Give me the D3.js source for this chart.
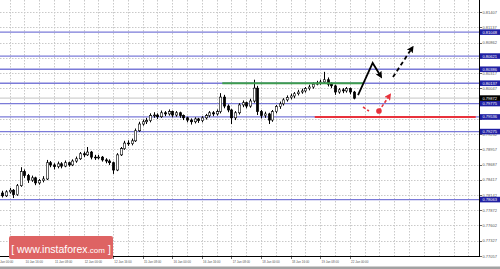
<!DOCTYPE html>
<html><head><meta charset="utf-8">
<script src="https://cdn.jsdelivr.net/npm/d3@7"></script>
<style>
html,body{margin:0;padding:0;background:#fff;}
svg{display:block;font-family:"Liberation Sans",Arial,sans-serif;}
</style></head><body>
<svg id="chart" width="500" height="269"></svg>
<script>
'use strict';
/* EURUSD-style candle chart with support/resistance levels and forecast arrows.
   Time axis = trading hours counted from 10 Jan 00:00 (weekend skipped), 2h bars. */

const firstBarHour=4, barStepHours=2;
const open =[.7818,.7813,.7820,.7823,.7815,.7831,.7856,.7849,.7841,.7845,.7836,.7840,.7843,.7872,.7868,.7865,.7870,.7866,.7872,.7868,
             .7875,.7879,.7888,.7886,.7891,.7882,.7881,.7882,.7877,.7875,.7872,.7859,.7886,.7897,.7907,.7906,.7911,.7929,.7941,.7945,
             .7947,.7956,.7957,.7954,.7961,.7959,.7963,.7957,.7961,.7956,.7952,.7948,.7945,.7950,.7947,.7952,.7956,.7961,.7959,.7963,
             .7989,.7973,.7966,.7952,.7961,.7975,.7979,.7973,.7982,.8005,.7963,.7956,.7959,.7948,.7963,.7972,.7977,.7984,.7988,.7991,
             .7995,.7998,.8000,.8004,.8007,.8012,.8014,.8016,.8020,.8012,.8009,.7998,.8002,.8000,.8004,.7998];
const high =[.7822,.7823,.7827,.7825,.7834,.7864,.7860,.7852,.7849,.7847,.7843,.7848,.7877,.7875,.7871,.7874,.7873,.7876,.7874,.7878,
             .7883,.7891,.7892,.7900,.7893,.7886,.7886,.7884,.7880,.7878,.7874,.7889,.7900,.7911,.7912,.7915,.7933,.7945,.7949,.7952,
             .7960,.7962,.7960,.7965,.7964,.7967,.7965,.7964,.7963,.7958,.7954,.7951,.7953,.7952,.7955,.7959,.7964,.7964,.7967,.7996,
             .7993,.7976,.7968,.7964,.7978,.7983,.7981,.7986,.8020,.8009,.7966,.7963,.7961,.7966,.7975,.7981,.7987,.7992,.7995,.7998,
             .8002,.8004,.8007,.8011,.8015,.8018,.8020,.8034,.8024,.8015,.8011,.8005,.8005,.8007,.8006,.8000];
const low  =[.7810,.7811,.7817,.7809,.7813,.7829,.7845,.7836,.7838,.7832,.7833,.7837,.7841,.7864,.7860,.7862,.7862,.7864,.7865,.7866,
             .7872,.7877,.7882,.7884,.7878,.7877,.7878,.7874,.7871,.7868,.7852,.7857,.7884,.7895,.7902,.7903,.7909,.7927,.7938,.7941,
             .7944,.7952,.7950,.7952,.7955,.7956,.7953,.7954,.7952,.7948,.7944,.7940,.7942,.7943,.7944,.7949,.7953,.7955,.7956,.7960,
             .7969,.7962,.7941,.7948,.7958,.7971,.7969,.7970,.7979,.7957,.7951,.7952,.7941,.7945,.7960,.7968,.7974,.7981,.7985,.7987,
             .7992,.7995,.7997,.8001,.8004,.8010,.8011,.8013,.8008,.8005,.7993,.7995,.7996,.7997,.7994,.7985];
const close=[.7813,.7820,.7823,.7815,.7831,.7856,.7849,.7841,.7845,.7836,.7840,.7843,.7872,.7868,.7865,.7870,.7866,.7872,.7868,.7875,
             .7879,.7888,.7886,.7891,.7882,.7881,.7882,.7877,.7875,.7872,.7859,.7886,.7897,.7907,.7906,.7911,.7929,.7941,.7945,.7947,
             .7956,.7957,.7954,.7961,.7959,.7963,.7957,.7961,.7956,.7952,.7948,.7945,.7950,.7947,.7952,.7956,.7961,.7959,.7963,.7989,
             .7973,.7966,.7952,.7961,.7975,.7979,.7973,.7982,.8005,.7963,.7956,.7959,.7948,.7963,.7972,.7977,.7984,.7988,.7991,.7995,
             .7998,.8000,.8004,.8007,.8012,.8014,.8016,.8020,.8012,.8009,.7998,.8002,.8000,.8004,.7998,.7987];

const yTicks=[0.81407,0.81137,0.80862,0.80592,0.80317,0.80047,0.79777,0.79502,0.79232,0.78957,0.78687,0.78417,0.78142,0.77872,0.77602,0.77327,0.77057];
const xTickHours=[0,16,32,48,64,80,96,112,128,144,160,176,192];
const xTickLabels=['10 Jan 00:00','10 Jan 16:00','11 Jan 08:00','12 Jan 00:00','12 Jan 16:00','15 Jan 08:00','16 Jan 00:00',
                   '16 Jan 16:00','17 Jan 08:00','18 Jan 00:00','18 Jan 16:00','19 Jan 08:00','22 Jan 00:00'];
const levels=[0.81048,0.80621,0.80386,0.80137,0.79775,0.79536,0.79275,0.78063];
const lastPrice=0.79872;
const resistance={price:0.80137,from:123,to:199};   // green
const support={price:0.79536,from:173,to:260};      // red
const upPath=[[196.4,0.79927],[204.3,0.80498],[208.6,0.80266]];
const upDash=[[215.3,0.80248],[225.6,0.80765]];
const downDash=[[199.1,0.79713],[202.3,0.79642]];
const downDot=[207.7,0.79642];
const downArrow=[[207.7,0.79642],[213.4,0.79918]];

const W=500, H=269, PR=479, PB=256;
const x=d3.scaleLinear().domain([0,192]).range([-5.3,349.9]);
const y=d3.scaleLinear().domain([0.77057,0.81407]).range([256,12]);
const svg=d3.select('#chart');
const defs=svg.append('defs');
defs.append('clipPath').attr('id','clip').append('rect').attr('width',PR).attr('height',PB);
function marker(id,color){
  defs.append('marker').attr('id',id).attr('viewBox','0 0 10 10').attr('refX',6).attr('refY',5)
    .attr('markerWidth',7).attr('markerHeight',7).attr('markerUnits','userSpaceOnUse').attr('orient','auto')
    .append('path').attr('d','M0,0 L10,5 L0,10 L2,5 z').attr('fill',color);
}
marker('ahB','#000'); marker('ahR','#e8323c');

const g=svg.append('g').attr('clip-path','url(#clip)');

// dotted grid
g.selectAll('.hg').data(yTicks).join('line').attr('x1',0).attr('x2',PR)
  .attr('y1',d=>Math.round(y(d))+0.5).attr('y2',d=>Math.round(y(d))+0.5)
  .attr('stroke','#c9c9c9').attr('stroke-dasharray','1.5,1.5');
g.selectAll('.vg').data(d3.range(0,264,8)).join('line')
  .attr('x1',d=>Math.round(x(d))+0.5).attr('x2',d=>Math.round(x(d))+0.5).attr('y1',0).attr('y2',PB)
  .attr('stroke','#c9c9c9').attr('stroke-dasharray','1.5,1.5');

// level lines
g.selectAll('.lvl').data(levels).join('line').attr('x1',0).attr('x2',PR)
  .attr('y1',d=>y(d)).attr('y2',d=>y(d)).attr('stroke','#7b7bd8').attr('stroke-width',1.3);
g.append('line').attr('x1',0).attr('x2',PR).attr('y1',y(lastPrice)).attr('y2',y(lastPrice))
  .attr('stroke','#c4c4c4').attr('stroke-width',1);

// candles
const bars=close.map((c,i)=>({h:firstBarHour+barStepHours*i,o:open[i],hi:high[i],lo:low[i],c}));
g.selectAll('.wick').data(bars).join('line')
  .attr('x1',d=>Math.round(x(d.h))+0.5).attr('x2',d=>Math.round(x(d.h))+0.5)
  .attr('y1',d=>y(d.hi)).attr('y2',d=>y(d.lo)).attr('stroke','#000').attr('stroke-width',1);
g.selectAll('.body').data(bars).join('rect')
  .attr('x',d=>Math.round(x(d.h))+0.5-1.2).attr('width',2.4)
  .attr('y',d=>y(Math.max(d.o,d.c))).attr('height',d=>Math.max(0.8,Math.abs(y(d.o)-y(d.c))))
  .attr('fill',d=>d.c>=d.o?'#fff':'#000').attr('stroke','#000').attr('stroke-width',0.6);

// resistance / support
g.append('line').attr('x1',x(resistance.from)).attr('x2',x(resistance.to))
  .attr('y1',y(resistance.price)).attr('y2',y(resistance.price)).attr('stroke','#3d9b4e').attr('stroke-width',2);
g.append('line').attr('x1',x(support.from)).attr('x2',x(support.to))
  .attr('y1',y(support.price)).attr('y2',y(support.price)).attr('stroke','#e8323c').attr('stroke-width',2);

// forecast arrows
const line=d3.line().x(d=>x(d[0])).y(d=>y(d[1]));
g.append('path').attr('d',line(upPath)).attr('fill','none').attr('stroke','#000').attr('stroke-width',1.8)
  .attr('marker-end','url(#ahB)');
g.append('path').attr('d',line(upDash)).attr('fill','none').attr('stroke','#000').attr('stroke-width',1.8)
  .attr('stroke-dasharray','4,3').attr('marker-end','url(#ahB)');
g.append('path').attr('d',line(downDash)).attr('fill','none').attr('stroke','#e8323c').attr('stroke-width',1.6)
  .attr('stroke-dasharray','3,2');
g.append('path').attr('d',line(downArrow)).attr('fill','none').attr('stroke','#e8323c').attr('stroke-width',1.6)
  .attr('stroke-dasharray','3,2').attr('marker-end','url(#ahR)');
g.append('circle').attr('cx',x(downDot[0])).attr('cy',y(downDot[1])).attr('r',2.8).attr('fill','#e8323c');

// axes frame
svg.append('line').attr('x1',PR+0.5).attr('x2',PR+0.5).attr('y1',0).attr('y2',PB+1).attr('stroke','#000');
svg.append('line').attr('x1',0).attr('x2',PR+1).attr('y1',PB+0.5).attr('y2',PB+0.5).attr('stroke','#000');

// right axis
svg.selectAll('.yt').data(yTicks).join('line').attr('x1',PR).attr('x2',PR+3)
  .attr('y1',d=>Math.round(y(d))+0.5).attr('y2',d=>Math.round(y(d))+0.5).attr('stroke','#000').attr('stroke-width',0.6);
svg.selectAll('.yl').data(yTicks).join('text').attr('x',PR+3.5).attr('y',d=>y(d))
  .attr('dominant-baseline','central').attr('font-size',4).attr('fill','#555').text(d=>d.toFixed(5));
const tags=levels.map(v=>({v,fill:'#1f1fa3'})).concat([{v:lastPrice,fill:'#000'}]);
const tg=svg.selectAll('.tag').data(tags).join('g').attr('transform',d=>`translate(${PR+1},${y(d.v)})`);
tg.append('rect').attr('x',0).attr('y',-2.8).attr('width',W-PR-1).attr('height',5.6).attr('fill',d=>d.fill);
tg.append('text').attr('x',2.5).attr('dominant-baseline','central').attr('font-size',4).attr('fill','#fff')
  .text(d=>d.v.toFixed(5));

// time axis
svg.selectAll('.xt').data(xTickHours).join('line').attr('x1',d=>Math.round(x(d))+0.5).attr('x2',d=>Math.round(x(d))+0.5)
  .attr('y1',PB).attr('y2',PB+3).attr('stroke','#000').attr('stroke-width',0.6);
svg.selectAll('.xl').data(xTickHours).join('text').attr('x',d=>x(d)+1.2).attr('y',263)
  .attr('font-size',3).attr('fill','#555').text((d,i)=>xTickLabels[i]);
svg.append('rect').attr('x',0).attr('y',266.5).attr('width',W).attr('height',H-266.5).attr('fill','#a2a2a2');

// watermark
const wm=svg.append('g');
wm.append('rect').attr('x',9).attr('y',236).attr('width',104).attr('height',23).attr('rx',2).attr('fill','#de6363');
const wt=wm.append('text').attr('x',61).attr('y',252.5).attr('text-anchor','middle').attr('fill','#fff').attr('font-size',10.5);
wt.append('tspan').text('[ www.instaforex');
wt.append('tspan').attr('font-size',8).text('.com');
wt.append('tspan').text(' ]');
</script>
</body></html>
